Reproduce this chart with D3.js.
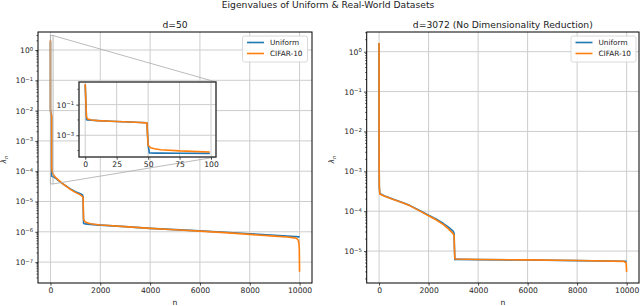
<!DOCTYPE html>
<html>
<head>
<meta charset="utf-8">
<script src="https://cdn.jsdelivr.net/npm/d3@7/dist/d3.min.js"></script>
<style>
  body { margin: 0; background: #fff; }
  svg { font-family: "DejaVu Sans", sans-serif; }
</style>
</head>
<body>
<svg id="canvas" width="640" height="306"></svg>
<script>
// jshint esversion:6

// data
let seriesNames = ['Uniform', 'CIFAR-10'];

// d=50
let n50 = [0, 1, 2, 5, 10, 20, 30, 40, 49, 50, 51, 52, 55, 60, 75, 99,
           200, 300, 500, 800, 1000, 1200, 1290, 1310, 1320, 1330, 1360, 1400, 1600,
           2000, 3000, 4000, 5000, 6000, 7000, 8000, 9000, 9500, 9800, 9900, 9950, 9980, 9990, 9999];
let uniform50 = [1.9, 1.05e-2, 1.0e-2, 9.6e-3, 9.0e-3, 8.2e-3, 7.6e-3, 7.0e-3, 6.6e-3, 2.4e-4, 6.9e-5, 6.9e-5, 6.8e-5, 6.8e-5, 6.7e-5, 6.6e-5,
                 6.0e-5, 5.1e-5, 3.8e-5, 2.6e-5, 2.1e-5, 1.8e-5, 1.65e-5, 1.4e-5, 4.0e-6, 1.9e-6, 1.85e-6, 1.82e-6, 1.76e-6,
                 1.66e-6, 1.48e-6, 1.3e-6, 1.18e-6, 1.07e-6, 9.7e-7, 8.6e-7, 7.7e-7, 7.3e-7, 7.0e-7, 6.9e-7, 6.8e-7, 6.7e-7, 6.7e-7, 6.6e-7];
let cifar50 = [2.2, 1.5e-2, 1.15e-2, 9.8e-3, 9.0e-3, 8.2e-3, 7.6e-3, 7.0e-3, 6.4e-3, 2.2e-4, 1.8e-4, 1.55e-4, 1.3e-4, 1.12e-4, 9.5e-5, 8.1e-5,
               6.3e-5, 5.3e-5, 3.8e-5, 2.5e-5, 2.0e-5, 1.65e-5, 1.45e-5, 1.3e-5, 5.0e-6, 2.6e-6, 2.3e-6, 2.1e-6, 1.85e-6,
               1.68e-6, 1.48e-6, 1.3e-6, 1.17e-6, 1.05e-6, 9.4e-7, 8.2e-7, 7.2e-7, 6.7e-7, 6.3e-7, 5.9e-7, 5.2e-7, 3.8e-7, 2.4e-7, 4.8e-8];

// d=3072
let n3072 = [0, 3, 10, 30, 200, 576, 1000, 1250, 1600, 2000, 2300, 2600, 2800, 3000, 3030, 3045, 3060,
             3100, 4000, 6000, 8000, 9900, 9980, 9999];
let uniform3072 = [1.65, 2e-3, 4e-4, 2.8e-4, 2.45e-4, 2.0e-4, 1.6e-4, 1.38e-4, 1.07e-4, 7.9e-5, 6.4e-5, 4.9e-5, 4.0e-5, 3.1e-5, 2.8e-5, 1.2e-5, 6.1e-6,
                   6.2e-6, 6.1e-6, 5.95e-6, 5.75e-6, 5.55e-6, 5.5e-6, 5.45e-6];
let cifar3072 = [1.65, 2e-3, 4e-4, 2.7e-4, 2.4e-4, 1.95e-4, 1.58e-4, 1.36e-4, 1.05e-4, 7.7e-5, 6.1e-5, 4.6e-5, 3.6e-5, 2.7e-5, 2.4e-5, 1.1e-5, 6.4e-6,
                 6.3e-6, 6.15e-6, 6.0e-6, 5.8e-6, 5.5e-6, 5.0e-6, 3.0e-6];

// ticks
let xTicksMain = [0, 2000, 4000, 6000, 8000, 10000];
let xTicksInset = [0, 25, 50, 75, 100];
let yExpLeft = [0, -1, -2, -3, -4, -5, -6, -7];
let yExpRight = [0, -1, -2, -3, -4, -5];
let yExpInset = [-1, -3];
let yExpInsetMinor = [0, -2, -4];

let colors = ['#1f77b4', '#ff7f0e'];
let gridColor = '#cdcdcd';
let tickFont = 7.6;

let canvas = d3.select('#canvas');
let defs = canvas.append('defs');

let supLabel = (textSel, e) => {
    textSel.text(null);
    textSel.append('tspan').text('10');
    textSel.append('tspan')
        .attr('dy', '-0.45em')
        .attr('font-size', (tickFont * 0.7) + 'px')
        .text(e < 0 ? '\u2212' + (-e) : String(e));
};

let drawPanel = (p) => {
    let x = d3.scaleLinear().domain(p.xDomain).range([p.left, p.right]);
    let y = d3.scaleLog().domain(p.yDomain).range([p.bottom, p.top]);
    let g = canvas.append('g');

    g.append('rect')
        .attr('x', p.left).attr('y', p.top)
        .attr('width', p.right - p.left).attr('height', p.bottom - p.top)
        .attr('fill', '#fff');

    // grid
    g.selectAll('.gx').data(p.xTicks).enter().append('line')
        .attr('x1', d => x(d)).attr('x2', d => x(d))
        .attr('y1', p.top).attr('y2', p.bottom)
        .attr('stroke', gridColor).attr('stroke-width', 1);
    g.selectAll('.gy').data(p.yExp).enter().append('line')
        .attr('x1', p.left).attr('x2', p.right)
        .attr('y1', d => y(Math.pow(10, d))).attr('y2', d => y(Math.pow(10, d)))
        .attr('stroke', gridColor).attr('stroke-width', 1);

    // lines
    let clipId = 'clip-' + p.id;
    defs.append('clipPath').attr('id', clipId).append('rect')
        .attr('x', p.left).attr('y', p.top)
        .attr('width', p.right - p.left).attr('height', p.bottom - p.top);

    let line = d3.line().x(d => x(d[0])).y(d => y(d[1]));
    let lines = g.append('g').attr('clip-path', 'url(#' + clipId + ')');
    p.series.forEach((values, i) => {
        let pts = d3.zip(p.n, values).filter(d => d[0] >= p.nMin && d[0] <= p.nMax);
        lines.append('path')
            .datum(pts)
            .attr('d', line)
            .attr('fill', 'none')
            .attr('stroke', colors[i])
            .attr('stroke-width', 1.6)
            .attr('stroke-linejoin', 'round');
    });

    // x axis
    let xAxis = g.append('g')
        .attr('transform', 'translate(0,' + p.bottom + ')')
        .call(d3.axisBottom(x).tickValues(p.xTicks).tickSize(2.7).tickPadding(2.2).tickFormat(d3.format('d')));
    xAxis.select('.domain').remove();

    // y axis, major
    let yAxis = g.append('g')
        .attr('transform', 'translate(' + p.left + ',0)')
        .call(d3.axisLeft(y).tickValues(p.yExp.map(e => Math.pow(10, e))).tickSize(2.7).tickPadding(2.2).tickFormat(() => ''));
    yAxis.select('.domain').remove();
    yAxis.selectAll('.tick text').each(function (d) {
        supLabel(d3.select(this), Math.round(Math.log10(d)));
    });

    // y axis, minor
    let minor = [];
    if (p.minorDecades) {
        p.minorDecades.forEach(e => minor.push(Math.pow(10, e)));
    } else {
        let lo = Math.floor(Math.log10(p.yDomain[0]));
        let hi = Math.ceil(Math.log10(p.yDomain[1]));
        for (let e = lo; e <= hi; e++) {
            for (let k = 2; k <= 9; k++) {
                let v = k * Math.pow(10, e);
                if (v >= p.yDomain[0] && v <= p.yDomain[1]) minor.push(v);
            }
        }
    }
    g.selectAll('.minor').data(minor).enter().append('line')
        .attr('x1', p.left - 1.6).attr('x2', p.left)
        .attr('y1', d => y(d)).attr('y2', d => y(d))
        .attr('stroke', '#000').attr('stroke-width', 0.6);

    g.selectAll('.tick text').attr('font-size', tickFont + 'px').attr('fill', '#222').attr('font-family', '"DejaVu Sans", sans-serif');
    g.selectAll('.tick line').attr('stroke', '#000').attr('stroke-width', 0.7);

    // frame
    g.append('rect')
        .attr('x', p.left).attr('y', p.top)
        .attr('width', p.right - p.left).attr('height', p.bottom - p.top)
        .attr('fill', 'none')
        .attr('stroke', p.frameColor || '#000')
        .attr('stroke-width', p.frameWidth || 1);

    return { x: x, y: y, g: g };
};

let drawLegend = (left, top) => {
    let g = canvas.append('g');
    g.append('rect')
        .attr('x', left).attr('y', top)
        .attr('width', 65).attr('height', 26).attr('rx', 2)
        .attr('fill', '#fff').attr('fill-opacity', 0.85)
        .attr('stroke', '#d0d0d0').attr('stroke-width', 0.8);
    seriesNames.forEach((name, i) => {
        let yy = top + 6.5 + i * 11;
        g.append('line')
            .attr('x1', left + 4.5).attr('x2', left + 21.5)
            .attr('y1', yy).attr('y2', yy)
            .attr('stroke', colors[i]).attr('stroke-width', 1.6);
        g.append('text')
            .attr('x', left + 27.5).attr('y', yy)
            .attr('dy', '0.35em')
            .attr('font-size', '7.3px').attr('fill', '#222')
            .text(name);
    });
};

let drawLabels = (cx, ylx, top, bottom, title) => {
    canvas.append('text')
        .attr('x', cx).attr('y', 27.5)
        .attr('text-anchor', 'middle')
        .attr('font-size', '9.2px').attr('fill', '#222')
        .text(title);
    canvas.append('text')
        .attr('x', cx).attr('y', 305)
        .attr('text-anchor', 'middle')
        .attr('font-size', tickFont + 'px').attr('fill', '#222')
        .text('n');
    let yl = canvas.append('text')
        .attr('transform', 'translate(' + ylx + ',' + ((top + bottom) / 2 + 2) + ') rotate(-90)')
        .attr('text-anchor', 'middle')
        .attr('font-size', tickFont + 'px').attr('fill', '#222')
        .attr('font-style', 'italic');
    yl.append('tspan').text('\u03bb');
    yl.append('tspan').attr('dy', '0.3em').attr('font-size', (tickFont * 0.7) + 'px').text('n');
};

// suptitle
canvas.append('text')
    .attr('x', 328).attr('y', 7.5)
    .attr('text-anchor', 'middle')
    .attr('font-size', '9.2px').attr('fill', '#222')
    .text('Eigenvalues of Uniform & Real-World Datasets');

// left: d=50
let leftP = {
    id: 'left', left: 38, right: 312, top: 32, bottom: 283,
    xDomain: [-500, 10499], yDomain: [2.04e-8, 3.93],
    xTicks: xTicksMain, yExp: yExpLeft,
    n: n50, series: [uniform50, cifar50], nMin: 0, nMax: 9999
};
let left = drawPanel(leftP);
drawLabels(175, 6, 32, 283, 'd=50');

// inset indicator
let insetP = {
    id: 'inset', left: 79, right: 216, top: 82, bottom: 157,
    xDomain: [-4.95, 103.95], yDomain: [3.8e-5, 3.0],
    xTicks: xTicksInset, yExp: yExpInset, minorDecades: yExpInsetMinor,
    n: n50, series: [uniform50, cifar50], nMin: 0, nMax: 99,
    frameColor: '#333', frameWidth: 1.4
};
let rx0 = left.x(insetP.xDomain[0]), rx1 = left.x(insetP.xDomain[1]);
let ry0 = left.y(insetP.yDomain[1]), ry1 = left.y(insetP.yDomain[0]);
canvas.append('rect')
    .attr('x', rx0).attr('y', ry0).attr('width', rx1 - rx0).attr('height', ry1 - ry0)
    .attr('fill', 'none').attr('stroke', '#aaa').attr('stroke-width', 0.8);
canvas.append('line')
    .attr('x1', rx1).attr('y1', ry0).attr('x2', insetP.right).attr('y2', insetP.top)
    .attr('stroke', '#aaa').attr('stroke-width', 0.8);
canvas.append('line')
    .attr('x1', rx1).attr('y1', ry1).attr('x2', insetP.right).attr('y2', insetP.bottom)
    .attr('stroke', '#aaa').attr('stroke-width', 0.8);

drawLegend(242.5, 36);
drawPanel(insetP);

// right: d=3072
let rightP = {
    id: 'right', left: 366.7, right: 639, top: 32, bottom: 283,
    xDomain: [-500, 10499], yDomain: [1.58e-6, 3.12],
    xTicks: xTicksMain, yExp: yExpRight,
    n: n3072, series: [uniform3072, cifar3072], nMin: 0, nMax: 9999
};
drawPanel(rightP);
drawLabels(502.8, 334, 32, 283, 'd=3072 (No Dimensionality Reduction)');
drawLegend(571, 36);
</script>
</body>
</html>
